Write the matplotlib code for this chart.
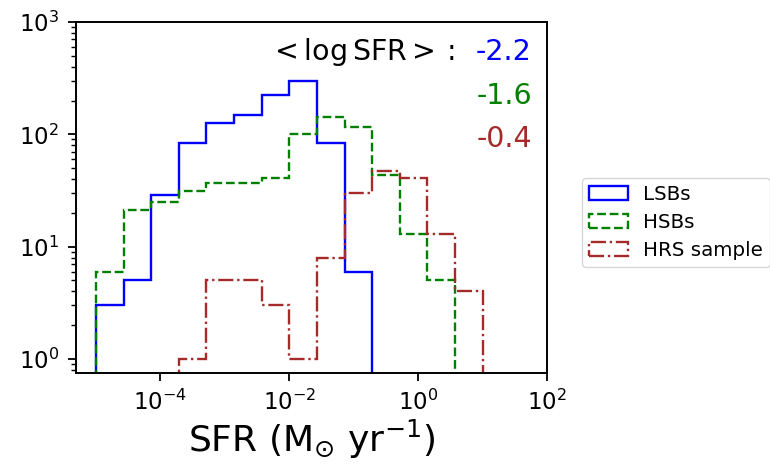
import numpy as np
import matplotlib
matplotlib.use("Agg")
import matplotlib.pyplot as plt
from matplotlib.ticker import NullLocator, LogLocator

# log10(SFR) bin edges and per-bin galaxy counts
log_edges = np.linspace(-5.0, 1.0, 15)
lsb_counts = [3, 5, 29, 83, 126, 148, 224, 299, 84, 6, 0, 0, 0, 0]
hsb_counts = [6, 21, 25, 31, 37, 37, 41, 101, 142, 116, 43, 13, 5, 0]
hrs_counts = [0, 0, 0, 1, 5, 5, 3, 1, 8, 30, 47, 41, 13, 4]

labels = ["LSBs", "HSBs", "HRS sample"]
mean_logsfr = ["-2.2", "-1.6", "-0.4"]
colors = ["#0000ff", "#008000", "#a52a2a"]
styles = ["-", "--", "-."]

edges = 10 ** log_edges
centers = 10 ** (0.5 * (log_edges[:-1] + log_edges[1:]))

fig = plt.figure(figsize=(7.7, 4.65), dpi=100)
ax = fig.add_axes([0.0987, 0.1978, 0.6117, 0.7549])

for counts, lab, c, ls in zip([lsb_counts, hsb_counts, hrs_counts], labels, colors, styles):
    ax.hist(centers, bins=edges, weights=counts, histtype="step",
            color=c, linestyle=ls, linewidth=1.7, label=lab)

ax.set_xscale("log")
ax.set_yscale("log", nonpositive="clip")
ax.set_xlim(10 ** -5.31, 1e2)
ax.set_ylim(0.75, 1e3)
ax.set_xticks([1e-4, 1e-2, 1e0, 1e2])
ax.xaxis.set_minor_locator(NullLocator())
ax.yaxis.set_major_locator(LogLocator(base=10, numticks=10))
ax.yaxis.set_minor_locator(LogLocator(base=10, subs=np.arange(2, 10), numticks=20))

for s in ax.spines.values():
    s.set_linewidth(1.4)
ax.tick_params(which="major", length=6, width=1.3, labelsize=16.5, pad=6)
ax.tick_params(which="minor", length=3.5, width=1.0)

ax.set_xlabel(r"SFR (M$_{\odot}$ yr$^{-1}$)", fontsize=26, labelpad=2)

ax.text(0.805, 0.892, r"$<\log{\rm SFR}>:$", transform=ax.transAxes,
        ha="right", va="baseline", fontsize=20.5)
for txt, c, yy in zip(mean_logsfr, colors, [0.892, 0.765, 0.645]):
    ax.text(0.968, yy, txt, transform=ax.transAxes, ha="right",
            va="baseline", fontsize=20.5, color=c)

ax.legend(loc="upper left", bbox_to_anchor=(581.7 / 770, 1 - 178 / 465),
          bbox_transform=fig.transFigure, borderaxespad=0, fontsize=14.3,
          labelspacing=0.45, borderpad=0.35, handletextpad=0.75)

fig.savefig("out.png", dpi=100)
